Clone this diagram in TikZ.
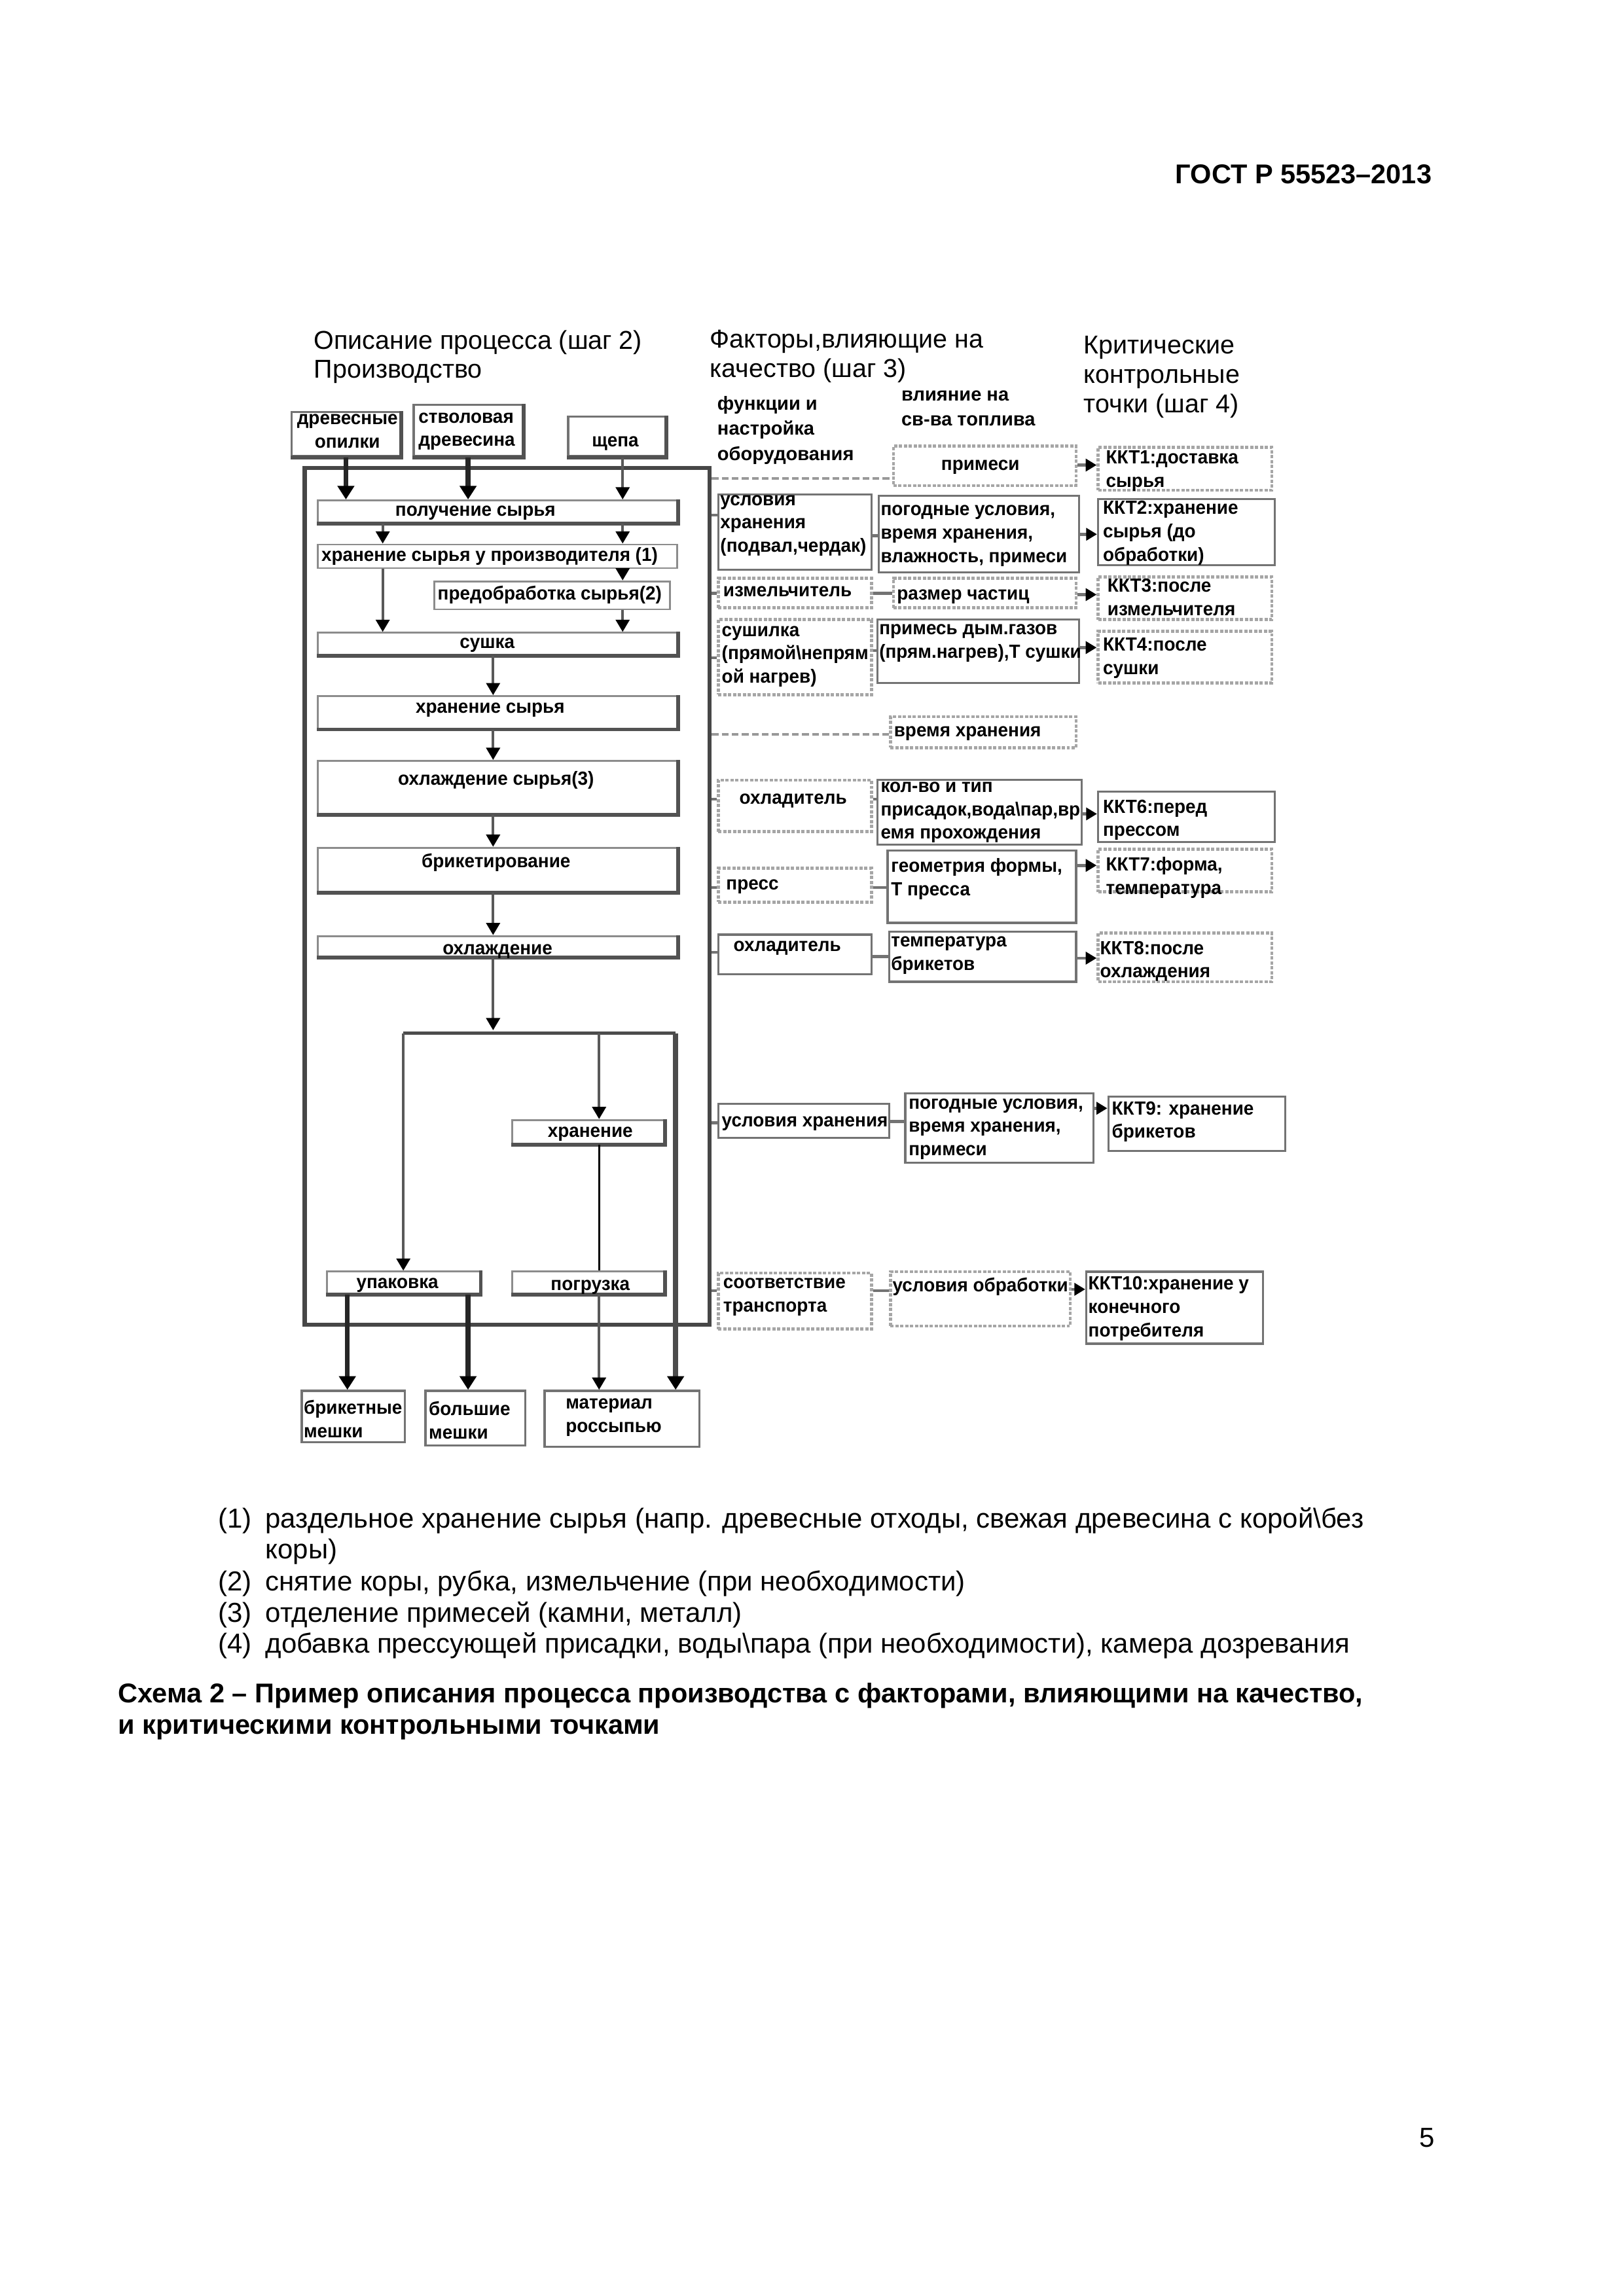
\documentclass[tikz,border=0pt]{standalone}
\usepackage{fontspec}
\setmainfont{Liberation Sans}
\newfontfamily\boxfont[FakeStretch=0.96]{Liberation Sans}
\usetikzlibrary{arrows.meta,calc}
\newcommand\mkbox[6]{\node[#6,minimum width={(#4-#2)*0.19039mm},minimum height={(#5-#3)*0.19039mm},inner sep=0pt] (#1) at ({(#2+#4)/2},{(#3+#5)/2}) {};}
\newcommand\tnw[4]{\node[#1,anchor=north west] (#2) at (#3) {#4};}
\newcommand\tnn[4]{\node[#1,anchor=north] (#2) at (#3) {#4};}
\newcommand\tbs[4]{\node[#1,anchor=base] (#2) at (#3) {#4};}
\newcommand\tbw[4]{\node[#1,anchor=base west] (#2) at (#3) {#4};}
\begin{document}
\begin{tikzpicture}[x=0.19039mm,y=-0.19039mm,
  bt/.style={font=\boxfont\fontsize{7}{8.6}\selectfont\bfseries,inner sep=0pt,align=left},
  btc/.style={bt,align=center},
  hd/.style={font=\fontsize{9.5}{10.8}\selectfont,inner sep=0pt,align=left},
  sh/.style={font=\fontsize{7}{9.2}\selectfont\bfseries,inner sep=0pt,align=left},
  body/.style={font=\fontsize{10.1}{11.5}\selectfont,inner sep=0pt},
  bodyb/.style={font=\fontsize{10}{11.5}\selectfont\bfseries,inner sep=0pt},
  bigbox/.style={draw=black!72,line width=1.6pt},
  pbox/.style={draw=black!45,line width=0.7pt,fill=white},
  gbox/.style={draw=black!55,line width=0.8pt,fill=white},
  dbox/.style={draw=black!35,line width=1.1pt,dash pattern=on 1.2pt off 0.6pt,fill=white},
  shadowline/.style={draw=black!68,line width=1.4pt},
  flow/.style={draw=black!65,line width=1pt,-{Triangle[width=5pt,length=4.5pt,color=black]}},
  tflow/.style={draw=black!85,line width=1.8pt,-{Triangle[width=6pt,length=5pt,color=black]}},
  plain/.style={draw=black,line width=0.8pt},
  link/.style={draw=black!55,line width=1.1pt},
  dlink/.style={draw=black!40,line width=1.1pt,dash pattern=on 2.5pt off 1.2pt},
  karr/.style={draw=black!55,line width=1.1pt,-{Triangle[width=4.5pt,length=4pt,color=black]}}]
\fill[white] (0,0) rectangle (1103,1560);
\useasboundingbox (0,0) rectangle (1103,1560);

% page header and number
\node[bodyb,anchor=base east] (gost) at (973,124.7) {ГОСТ Р 55523–2013};
\node[body,anchor=base east] (pnum) at (975,1458.7) {5};

% column headings
\tnw{hd}{h1}{213,224}{Описание процесса (шаг 2)\\Производство}
\tnw{hd}{h2}{482,224}{Факторы,влияющие на\\качество (шаг 3)}
\tnw{hd}{h3}{736,228}{Критические\\контрольные\\точки (шаг 4)}
\tnw{sh}{h4}{487,269}{функции и\\настройка\\оборудования}
\tnw{sh}{h5}{612,265}{влияние на\\св-ва топлива}

% big frame
\mkbox{big}{207}{318}{482}{900}{bigbox}

% source boxes
\mkbox{s1}{198}{280}{272}{310}{gbox}
\mkbox{s2}{281}{275}{355}{310}{gbox}
\mkbox{s3}{386}{283}{452}{310}{gbox}

% process boxes
\mkbox{p1}{216}{340}{460}{355}{pbox}
\mkbox{p2}{216}{370}{460}{386}{pbox}
\mkbox{p3}{295}{395}{455}{414}{pbox}
\mkbox{p4}{216}{430}{460}{445}{pbox}
\mkbox{p5}{216}{473}{460}{495}{pbox}
\mkbox{p6}{216}{517}{460}{553}{pbox}
\mkbox{p7}{216}{576}{460}{606}{pbox}
\mkbox{p8}{216}{636}{460}{650}{pbox}
\mkbox{q1}{348}{761}{451}{777}{pbox}
\mkbox{q2}{222}{864}{326}{879}{pbox}
\mkbox{q3}{348}{864}{451}{879}{pbox}

% output boxes
\mkbox{o1}{205}{945}{275}{980}{gbox}
\mkbox{o2}{289}{945}{357}{982}{gbox}
\mkbox{o3}{370}{945}{475}{983}{gbox}

\foreach \n in {s1,s2,s3,p1,p4,p5,p6,p7,p8,q1,q2,q3}
  \draw[shadowline] (\n.north east) -- (\n.south east) -- (\n.south west);

% equipment column
\mkbox{e1}{488}{336}{592}{387}{gbox}
\mkbox{e2}{488}{393}{592}{413}{dbox}
\mkbox{e3}{488}{421}{592}{472}{dbox}
\mkbox{e4}{488}{530}{592}{565}{dbox}
\mkbox{e5}{488}{590}{592}{613}{dbox}
\mkbox{e6}{488}{635}{592}{662}{gbox}
\mkbox{e7}{488}{750}{604}{773}{gbox}
\mkbox{e8}{488}{865}{592}{903}{dbox}

% influence column
\mkbox{f1}{607}{303}{731}{330}{dbox}
\mkbox{f2}{597}{337}{733}{389}{gbox}
\mkbox{f3}{607}{393}{731}{413}{dbox}
\mkbox{f4}{596}{421}{733}{464}{gbox}
\mkbox{f5}{605}{487}{731}{508}{dbox}
\mkbox{f6}{596}{530}{735}{574}{gbox}
\mkbox{f7}{603}{578}{731}{627}{gbox}
\mkbox{f8}{604}{633}{731}{667}{gbox}
\mkbox{f9}{615}{743}{743}{790}{gbox}
\mkbox{f10}{605}{864}{727}{901}{dbox}

% critical control points
\mkbox{k1}{746}{304}{864}{333}{dbox}
\mkbox{k2}{746}{339}{866}{384}{gbox}
\mkbox{k3}{746}{392}{864}{421}{dbox}
\mkbox{k4}{746}{429}{864}{464}{dbox}
\mkbox{k6}{746}{538}{866}{572}{gbox}
\mkbox{k7}{746}{577}{864}{606}{dbox}
\mkbox{k8}{746}{634}{864}{667}{dbox}
\mkbox{k9}{753}{745}{873}{782}{gbox}
\mkbox{k10}{738}{864}{858}{913}{gbox}

% texts of the boxes
\tnn{btc}{s1t}{236,281}{древесные\\опилки}
\tnw{bt}{s2t}{284,280}{стволовая\\древесина}
\tbs{bt}{s3t}{418,303.5}{щепа}
\tbs{bt}{p1t}{323,350.5}{получение сырья}
\tbw{bt}{p2t}{218,381.5}{хранение сырья у производителя (1)}
\tbw{bt}{p3t}{297,407.5}{предобработка сырья(2)}
\tbs{bt}{p4t}{331,440.5}{сушка}
\tbs{bt}{p5t}{333,484.5}{хранение сырья}
\tbs{bt}{p6t}{337,533.5}{охлаждение сырья(3)}
\tbs{bt}{p7t}{337,589.5}{брикетирование}
\tbs{bt}{p8t}{338,648.5}{охлаждение}
\tbs{bt}{q1t}{401,772.5}{хранение}
\tbs{bt}{q2t}{270,875.5}{упаковка}
\tbs{bt}{q3t}{401,876.5}{погрузка}
\tnw{bt}{o1t}{206,951}{брикетные\\мешки}
\tnw{bt}{o2t}{291,952}{большие\\мешки}
\tnw{bt}{o3t}{384,950}{материал\\россыпью}

\tnw{bt}{e1t}{489,336}{условия\\хранения\\(подвал,чердак)}
\tbw{bt}{e2t}{491,405.5}{измельчитель}
\tnw{bt}{e3t}{490,425}{сушилка\\(прямой\textbackslash непрям\\ой нагрев)}
\tbw{bt}{e4t}{502,546.5}{охладитель}
\tbw{bt}{e5t}{493,604.5}{пресс}
\tbw{bt}{e6t}{498,646.5}{охладитель}
\tbw{bt}{e7t}{490,765.5}{условия хранения}
\tnw{bt}{e8t}{491,868}{соответствие\\транспорта}

\tbs{bt}{f1t}{666,319.5}{примеси}
\tnw{bt}{f2t}{598,343}{погодные условия,\\время хранения,\\влажность, примеси}
\tbw{bt}{f3t}{609,407.5}{размер частиц}
\tnw{bt}{f4t}{597,424}{примесь дым.газов\\(прям.нагрев),Т сушки}
\tbw{bt}{f5t}{607,500.5}{время хранения}
\tnw{bt}{f6t}{598,531}{кол-во и тип\\присадок,вода\textbackslash пар,вр\\емя прохождения}
\tnw{bt}{f7t}{605,583}{геометрия формы,\\Т пресса}
\tnw{bt}{f8t}{605,636}{температура\\брикетов}
\tnw{bt}{f9t}{617,746}{погодные условия,\\время хранения,\\примеси}
\tbw{bt}{f10t}{606,877.5}{условия обработки}

\tnw{bt}{k1t}{751,306}{ККТ1:доставка\\сырья}
\tnw{bt}{k2t}{749,340}{ККТ2:хранение\\сырья (до\\обработки)}
\tnw{bt}{k3t}{752,393}{ККТ3:после\\измельчителя}
\tnw{bt}{k4t}{749,433}{ККТ4:после\\сушки}
\tnw{bt}{k6t}{749,543}{ККТ6:перед\\прессом}
\tnw{bt}{k7t}{751,582}{ККТ7:форма,\\температура}
\tnw{bt}{k8t}{747,639}{ККТ8:после\\охлаждения}
\tnw{bt}{k9t}{755,748}{ККТ9: хранение\\брикетов}
\tnw{bt}{k10t}{739,867}{ККТ10:хранение у\\конечного\\потребителя}

% column guides
\coordinate (cA) at (260,0);
\coordinate (cB) at (423,0);
\coordinate (cM) at (335,0);
\coordinate (cL) at (274,0);
\coordinate (cQ) at (407,0);
\coordinate (cR) at (459,0);
\coordinate (c1) at (236,0);
\coordinate (c2) at (318,0);
\coordinate (jn) at (335,700);
\coordinate (jl) at (274,702);
\coordinate (jr) at (459,702);

% process flow
\draw[tflow] (s1.south) -- (s1.south |- p1.north);
\draw[tflow] (s2.south) -- (s2.south |- p1.north);
\draw[flow] (s3.south -| cB) -- (p1.north -| cB);
\draw[flow] (p1.south -| cA) -- (p2.north -| cA);
\draw[flow] (p1.south -| cB) -- (p2.north -| cB);
\draw[flow] (p2.south -| cA) -- (p4.north -| cA);
\draw[flow] (p2.south -| cB) -- (p3.north -| cB);
\draw[flow] (p3.south -| cB) -- (p4.north -| cB);
\draw[flow] (p4.south -| cM) -- (p5.north -| cM);
\draw[flow] (p5.south -| cM) -- (p6.north -| cM);
\draw[flow] (p6.south -| cM) -- (p7.north -| cM);
\draw[flow] (p7.south -| cM) -- (p8.north -| cM);
\draw[flow] (p8.south -| cM) -- (jn);
\draw[link,draw=black!70] (jl) -- (jr);
\draw[flow] (jl) -- (q2.north -| cL);
\draw[flow] (jl -| cQ) -- (q1.north -| cQ);
\draw[tflow,draw=black!70] (jr) -- (o3.north -| cR);
\draw[plain] (q1.south -| cQ) -- (q3.north -| cQ);
\draw[flow] (q3.south -| cQ) -- (o3.north -| cQ);
\draw[tflow] (q2.south -| c1) -- (o1.north -| c1);
\draw[tflow] (q2.south -| c2) -- (o2.north -| c2);

% row levels
\coordinate (y1a) at (0,325);  \coordinate (y1b) at (0,316);
\coordinate (y2a) at (0,350);  \coordinate (y2b) at (0,364); \coordinate (y2c) at (0,363);
\coordinate (y3a) at (0,403);  \coordinate (y3c) at (0,404);
\coordinate (y4a) at (0,447);  \coordinate (y4b) at (0,442); \coordinate (y4c) at (0,440);
\coordinate (y5a) at (0,499);
\coordinate (y6a) at (0,543);  \coordinate (y6c) at (0,553);
\coordinate (y7a) at (0,603);  \coordinate (y7c) at (0,588);
\coordinate (y8a) at (0,647);  \coordinate (y8b) at (0,650); \coordinate (y8c) at (0,651);
\coordinate (y9a) at (0,763);  \coordinate (y9b) at (0,762); \coordinate (y9c) at (0,753);
\coordinate (y10a) at (0,877); \coordinate (y10c) at (0,876);

% frame to equipment
\draw[dlink] (big.east |- y1a) -- (f1.west |- y1a);
\draw[link] (big.east |- y2a) -- (e1.west |- y2a);
\draw[link] (big.east |- y3a) -- (e2.west |- y3a);
\draw[link] (big.east |- y4a) -- (e3.west |- y4a);
\draw[dlink] (big.east |- y5a) -- (f5.west |- y5a);
\draw[link] (big.east |- y6a) -- (e4.west |- y6a);
\draw[link] (big.east |- y7a) -- (e5.west |- y7a);
\draw[link] (big.east |- y8a) -- (e6.west |- y8a);
\draw[link] (big.east |- y9a) -- (e7.west |- y9a);
\draw[link] (big.east |- y10a) -- (e8.west |- y10a);

% equipment to influence
\draw[link] (e1.east |- y2b) -- (f2.west |- y2b);
\draw[link] (e2.east |- y3a) -- (f3.west |- y3a);
\draw[link] (e3.east |- y4b) -- (f4.west |- y4b);
\draw[link] (e4.east |- y6a) -- (f6.west |- y6a);
\draw[link] (e5.east |- y7a) -- (f7.west |- y7a);
\draw[link] (e6.east |- y8b) -- (f8.west |- y8b);
\draw[link] (e7.east |- y9b) -- (f9.west |- y9b);
\draw[link] (e8.east |- y10a) -- (f10.west |- y10a);

% influence to control points
\draw[karr] (f1.east |- y1b) -- (k1.west |- y1b);
\draw[karr] (f2.east |- y2c) -- (k2.west |- y2c);
\draw[karr] (f3.east |- y3c) -- (k3.west |- y3c);
\draw[karr] (f4.east |- y4c) -- (k4.west |- y4c);
\draw[karr] (f6.east |- y6c) -- (k6.west |- y6c);
\draw[karr] (f7.east |- y7c) -- (k7.west |- y7c);
\draw[karr] (f8.east |- y8c) -- (k8.west |- y8c);
\draw[karr] (f9.east |- y9c) -- (k9.west |- y9c);
\draw[karr] (f10.east |- y10c) -- (k10.west |- y10c);

% footnotes
\tbw{body}{n1}{148,1038}{(1)}
\tbw{body}{n1t}{180,1038}{раздельное хранение сырья (напр. древесные отходы, свежая древесина с корой\textbackslash без}
\tbw{body}{n1u}{180,1059}{коры)}
\tbw{body}{n2}{148,1081}{(2)}
\tbw{body}{n2t}{180,1081}{снятие коры, рубка, измельчение (при необходимости)}
\tbw{body}{n3}{148,1102}{(3)}
\tbw{body}{n3t}{180,1102}{отделение примесей (камни, металл)}
\tbw{body}{n4}{148,1123}{(4)}
\tbw{body}{n4t}{180,1123}{добавка прессующей присадки, воды\textbackslash пара (при необходимости), камера дозревания}
\tbw{bodyb}{cap1}{80,1157}{Схема 2 – Пример описания процесса производства с факторами, влияющими на качество,}
\tbw{bodyb}{cap2}{80,1178}{и критическими контрольными точками}
\end{tikzpicture}
\end{document}
